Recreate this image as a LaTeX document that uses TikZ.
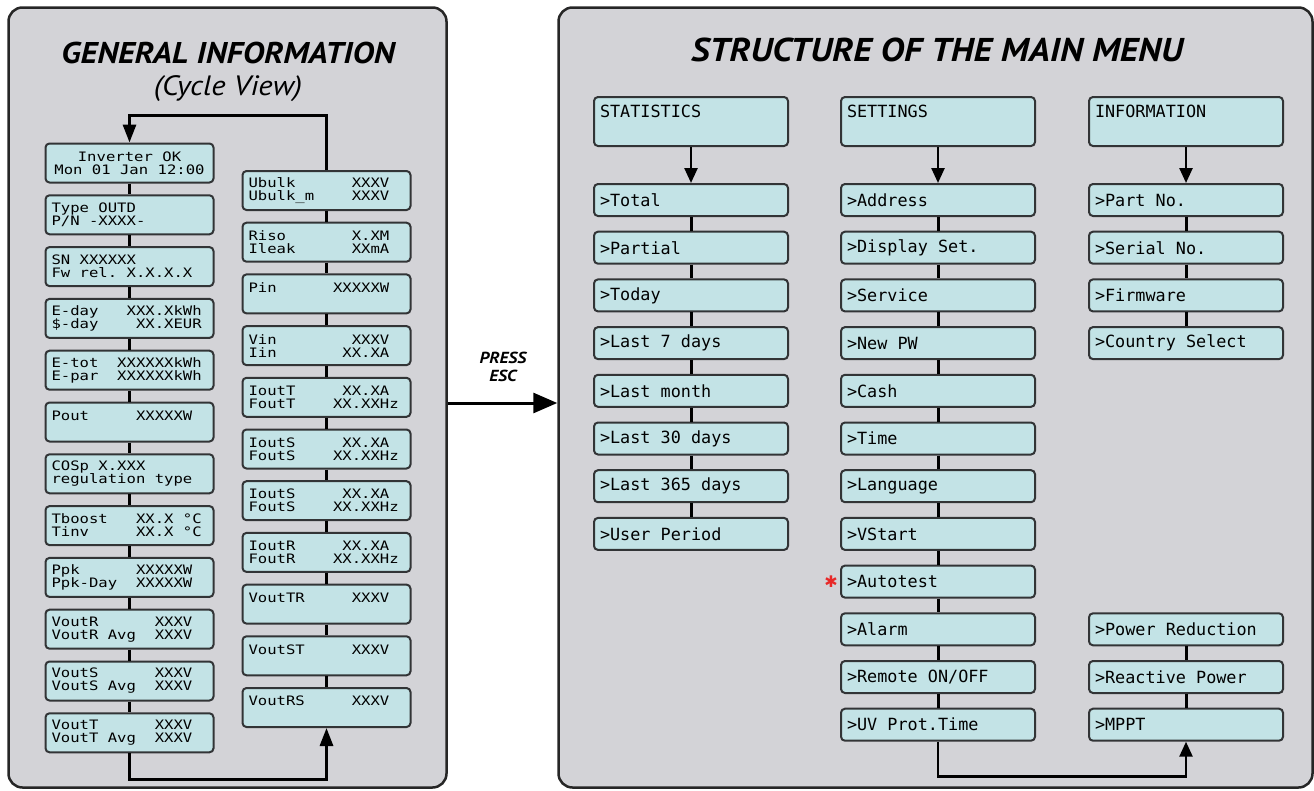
\documentclass[tikz,border=0pt]{standalone}
\usepackage{fontspec}
\usepackage{xcolor}
\usepackage{tikz}
\usetikzlibrary{arrows.meta,positioning,calc}

\newfontfamily\titlefont[FakeStretch=1.1]{PT Sans}
\newfontfamily\lcdfont[FakeStretch=1.2]{DejaVu Sans Mono}
\newfontfamily\menufont{DejaVu Sans Mono}
\newfontfamily\symfont{DejaVu Sans}
% n blanks, each as wide as one character on the display
\newcommand{\gap}[1]{\setbox0\hbox{X}\hspace*{#1\wd0}}

\definecolor{panelgray}{RGB}{211,211,215}
\definecolor{lcdcyan}{RGB}{195,227,230}
\definecolor{framegray}{RGB}{50,52,54}
\definecolor{starred}{RGB}{232,40,40}

\begin{document}
\begin{tikzpicture}[x=1pt, y=-1pt,
  panel/.style={draw=black!85, line width=2.5pt, rounded corners=14pt, fill=panelgray},
  title/.style={font=\titlefont\bfseries\itshape\fontsize{30}{30}\selectfont, inner sep=0pt},
  lcd/.style={draw=framegray, line width=2pt, rounded corners=4pt, fill=lcdcyan, inner xsep=6pt, inner ysep=0pt, minimum height=39pt, text width=156pt, align=left, font=\lcdfont\fontsize{13}{13}\selectfont},
  item/.style={draw=framegray, line width=2pt, rounded corners=4pt, fill=lcdcyan, inner xsep=6pt, inner ysep=0pt, minimum height=32pt, text width=182pt, align=left, font=\menufont\fontsize{16.8}{20}\selectfont},
  head/.style={item, minimum height=49pt},
  link/.style={line width=3pt},
  loop/.style={line width=3pt, -{Triangle[length=18pt,width=13pt]}},
  arrow/.style={line width=2.5pt, -{Triangle[length=15pt,width=13pt]}},
  bigarrow/.style={line width=3pt, -{Triangle[length=24pt,width=20pt]}}
]
\useasboundingbox (0,0) rectangle (1314,790);

% the two panels
\node[panel, minimum width=438pt, minimum height=780pt] (gen) at (227.5,397.5) {};
\node[panel, minimum width=754pt, minimum height=780pt] (menu) at (935.5,397.5) {};

\node[title] (gtitle) at (228,52.5) {GENERAL INFORMATION};
\node[title, font=\titlefont\itshape\fontsize{28}{28}\selectfont] (cycle) at (228,89) {(Cycle View)};
\node[title, font=\titlefont\bfseries\itshape\fontsize{33}{33}\selectfont] (mtitle) at (937,50) {STRUCTURE OF THE MAIN MENU};

% cycle view, first column
\node[lcd, align=center] (inv) at (129.5,163) {Inverter\gap{1}OK\\Mon\gap{1}01\gap{1}Jan\gap{1}12:00};
\node[lcd, below=10.8pt of inv] (type) {Type\gap{1}OUTD\\P/N\gap{1}-XXXX-};
\node[lcd, below=10.8pt of type] (sn) {SN\gap{1}XXXXXX\\Fw\gap{1}rel.\gap{1}X.X.X.X};
\node[lcd, below=10.8pt of sn] (eday) {E-day\gap{3}XXX.XkWh\\\$-day\gap{4}XX.XEUR};
\node[lcd, below=10.8pt of eday] (etot) {E-tot\gap{2}XXXXXXkWh\\E-par\gap{2}XXXXXXkWh};
\node[lcd, below=10.8pt of etot] (pout) {Pout\gap{5}XXXXXW\\~};
\node[lcd, below=10.8pt of pout] (cosp) {COSp\gap{1}X.XXX\\regulation\gap{1}type};
\node[lcd, below=10.8pt of cosp] (temp) {Tboost\gap{3}XX.X\gap{1}°C\\Tinv\gap{5}XX.X\gap{1}°C};
\node[lcd, below=10.8pt of temp] (ppk) {Ppk\gap{6}XXXXXW\\Ppk-Day\gap{2}XXXXXW};
\node[lcd, below=10.8pt of ppk] (voutr) {VoutR\gap{6}XXXV\\VoutR\gap{1}Avg\gap{2}XXXV};
\node[lcd, below=10.8pt of voutr] (vouts) {VoutS\gap{6}XXXV\\VoutS\gap{1}Avg\gap{2}XXXV};
\node[lcd, below=10.8pt of vouts] (voutt) {VoutT\gap{6}XXXV\\VoutT\gap{1}Avg\gap{2}XXXV};

% cycle view, second column
\node[lcd] (ubulk) at (326.5,190.5) {Ubulk\gap{6}XXXV\\Ubulk\_m\gap{4}XXXV};
\node[lcd, below=10.7pt of ubulk] (riso) {Riso\gap{7}X.XM\\Ileak\gap{6}XXmA};
\node[lcd, below=10.7pt of riso] (pin) {Pin\gap{6}XXXXXW\\~};
\node[lcd, below=10.7pt of pin] (vin) {Vin\gap{8}XXXV\\Iin\gap{7}XX.XA};
\node[lcd, below=10.7pt of vin] (ioutt) {IoutT\gap{5}XX.XA\\FoutT\gap{4}XX.XXHz};
\node[lcd, below=10.7pt of ioutt] (iouts) {IoutS\gap{5}XX.XA\\FoutS\gap{4}XX.XXHz};
\node[lcd, below=10.7pt of iouts] (ioutsb) {IoutS\gap{5}XX.XA\\FoutS\gap{4}XX.XXHz};
\node[lcd, below=10.7pt of ioutsb] (ioutr) {IoutR\gap{5}XX.XA\\FoutR\gap{4}XX.XXHz};
\node[lcd, below=10.7pt of ioutr] (vouttr) {VoutTR\gap{5}XXXV\\~};
\node[lcd, below=10.7pt of vouttr] (voutst) {VoutST\gap{5}XXXV\\~};
\node[lcd, below=10.7pt of voutst] (voutrs) {VoutRS\gap{5}XXXV\\~};

\draw[link] (inv) -- (type);   \draw[link] (type) -- (sn);     \draw[link] (sn) -- (eday);
\draw[link] (eday) -- (etot);  \draw[link] (etot) -- (pout);   \draw[link] (pout) -- (cosp);
\draw[link] (cosp) -- (temp);  \draw[link] (temp) -- (ppk);    \draw[link] (ppk) -- (voutr);
\draw[link] (voutr) -- (vouts); \draw[link] (vouts) -- (voutt);
\draw[link] (ubulk) -- (riso); \draw[link] (riso) -- (pin);    \draw[link] (pin) -- (vin);
\draw[link] (vin) -- (ioutt);  \draw[link] (ioutt) -- (iouts); \draw[link] (iouts) -- (ioutsb);
\draw[link] (ioutsb) -- (ioutr); \draw[link] (ioutr) -- (vouttr); \draw[link] (vouttr) -- (voutst);
\draw[link] (voutst) -- (voutrs);

\coordinate (topturn) at ([yshift=27pt]inv.north);
\coordinate (botturn) at ([yshift=-26pt]voutt.south);
\draw[loop] (ubulk) |- (topturn) -- (inv);
\draw[loop] (voutt) -- (botturn) -| (voutrs);

% press esc
\draw[bigarrow] ([yshift=-5.5pt]gen.east) -- ([yshift=-5.5pt]menu.west);
\node[align=center, font=\titlefont\bfseries\itshape\fontsize{16}{18}\selectfont] (press) at (503,367) {PRESS\\ESC};

% main menu headers
\node[head] (stat) at (691,121.5) {STATISTICS\\~};
\node[head, right=51pt of stat] (set) {SETTINGS\\~};
\node[head, right=52pt of set] (info) {INFORMATION\\~};

% statistics
\node[item, below=36pt of stat] (total) {>Total};
\node[item, below=13.7pt of total] (partial) {>Partial};
\node[item, below=13.7pt of partial] (today) {>Today};
\node[item, below=13.7pt of today] (week) {>Last\gap{1}7\gap{1}days};
\node[item, below=13.7pt of week] (month) {>Last\gap{1}month};
\node[item, below=13.7pt of month] (days30) {>Last\gap{1}30\gap{1}days};
\node[item, below=13.7pt of days30] (days365) {>Last\gap{1}365\gap{1}days};
\node[item, below=13.7pt of days365] (userper) {>User\gap{1}Period};

% settings
\node[item, below=36pt of set] (address) {>Address};
\node[item, below=13.7pt of address] (display) {>Display\gap{1}Set.};
\node[item, below=13.7pt of display] (service) {>Service};
\node[item, below=13.7pt of service] (newpw) {>New\gap{1}PW};
\node[item, below=13.7pt of newpw] (cash) {>Cash};
\node[item, below=13.7pt of cash] (time) {>Time};
\node[item, below=13.7pt of time] (language) {>Language};
\node[item, below=13.7pt of language] (vstart) {>VStart};
\node[item, below=13.7pt of vstart] (autotest) {>Autotest};
\node[item, below=13.7pt of autotest] (alarm) {>Alarm};
\node[item, below=13.7pt of alarm] (remote) {>Remote\gap{1}ON/OFF};
\node[item, below=13.7pt of remote] (uvprot) {>UV\gap{1}Prot.Time};
\node[text=starred, font=\symfont\fontsize{16}{16}\selectfont, inner sep=0pt] (star) at (831,582) {✱};

% information
\node[item, below=36pt of info] (partno) {>Part\gap{1}No.};
\node[item, below=13.7pt of partno] (serial) {>Serial\gap{1}No.};
\node[item, below=13.7pt of serial] (firmware) {>Firmware};
\node[item, below=13.7pt of firmware] (country) {>Country\gap{1}Select};
\node[item, right=52pt of alarm] (powred) {>Power\gap{1}Reduction};
\node[item, below=13.7pt of powred] (reactive) {>Reactive\gap{1}Power};
\node[item, below=13.7pt of reactive] (mppt) {>MPPT};

\draw[arrow] (stat) -- (total);
\draw[arrow] (set) -- (address);
\draw[arrow] (info) -- (partno);
\draw[link] (total) -- (partial);  \draw[link] (partial) -- (today); \draw[link] (today) -- (week);
\draw[link] (week) -- (month);     \draw[link] (month) -- (days30);  \draw[link] (days30) -- (days365);
\draw[link] (days365) -- (userper);
\draw[link] (address) -- (display); \draw[link] (display) -- (service); \draw[link] (service) -- (newpw);
\draw[link] (newpw) -- (cash);      \draw[link] (cash) -- (time);       \draw[link] (time) -- (language);
\draw[link] (language) -- (vstart); \draw[link] (vstart) -- (autotest); \draw[link] (autotest) -- (alarm);
\draw[link] (alarm) -- (remote);    \draw[link] (remote) -- (uvprot);
\draw[link] (partno) -- (serial);   \draw[link] (serial) -- (firmware); \draw[link] (firmware) -- (country);
\draw[link] (powred) -- (reactive); \draw[link] (reactive) -- (mppt);

\coordinate (setturn) at ([yshift=-35pt]uvprot.south);
\draw[arrow] (uvprot) -- (setturn) -| (mppt);
\end{tikzpicture}
\end{document}
